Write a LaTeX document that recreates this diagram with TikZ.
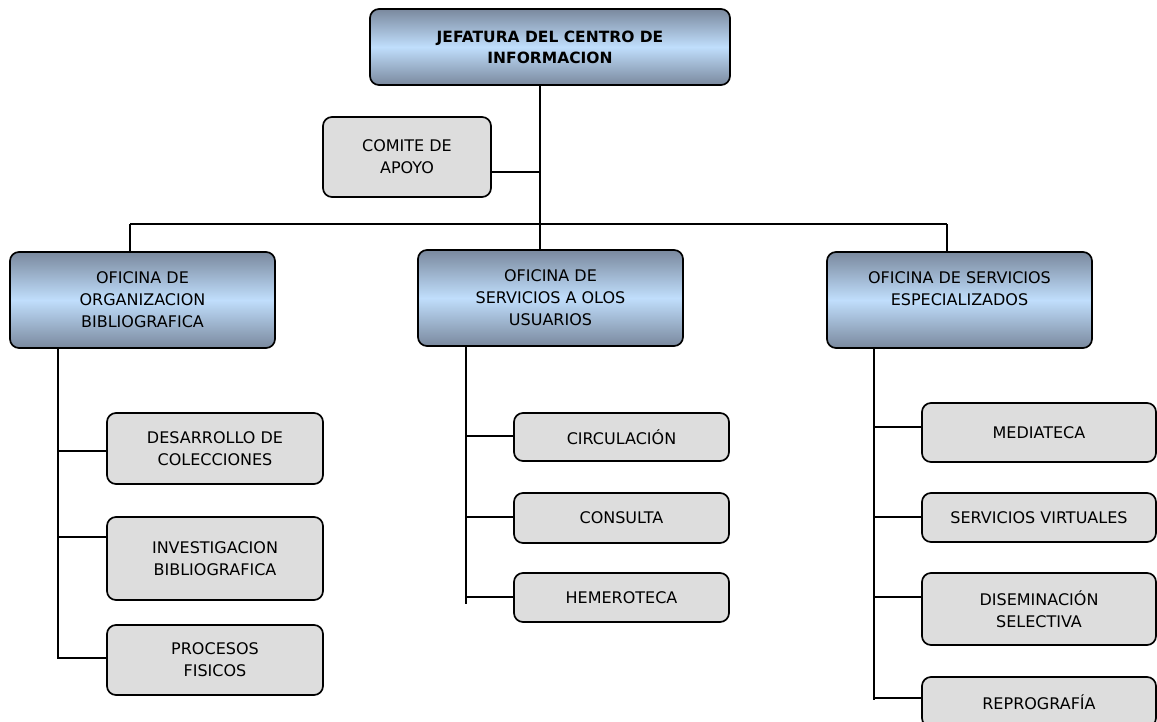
\documentclass[tikz,border=0pt]{standalone}
\usepackage{fontspec}
\setmainfont{DejaVu Sans}
\definecolor{gtop}{RGB}{122,137,158}
\definecolor{gmid}{RGB}{192,222,252}
\definecolor{gfill}{RGB}{221,221,221}
\tikzset{
  box/.style={draw=black, line width=1.7pt, rounded corners=9pt, align=center,
     inner sep=2pt, font=\fontsize{16}{22}\selectfont},
  bluebox/.style={box, top color=gtop, bottom color=gtop, middle color=gmid},
  greybox/.style={box, fill=gfill},
  link/.style={draw=black, line width=1.6pt}
}
\begin{document}
\begin{tikzpicture}[x=1pt,y=-1pt]
\clip (0,0) rectangle (1157,721);
\fill[white] (0,0) rectangle (1157,721);
% top
\node[bluebox, minimum width=360pt, minimum height=76pt, font=\fontsize{15.5}{21}\selectfont\bfseries] (jef) at (550,47) {JEFATURA DEL CENTRO DE\\INFORMACION};
\node[greybox, minimum width=168pt, minimum height=80pt] (com) at (407,157) {COMITE DE\\APOYO};
% offices
\node[bluebox, minimum width=265pt, minimum height=96pt] (ob) at (142.5,300) {OFICINA DE\\ORGANIZACION\\BIBLIOGRAFICA};
\node[bluebox, minimum width=265pt, minimum height=96pt] (ou) at (550.5,298) {OFICINA DE\\SERVICIOS A OLOS\\USUARIOS};
\node[bluebox, minimum width=265pt, minimum height=96pt] (oe) at (959.5,300) {OFICINA DE SERVICIOS\\ESPECIALIZADOS\\\mbox{}};
% left children
\node[greybox, minimum width=216pt, minimum height=71pt] (l1) at (215,448.5) {DESARROLLO DE\\COLECCIONES};
\node[greybox, minimum width=216pt, minimum height=83pt] (l2) at (215,558.5) {INVESTIGACION\\BIBLIOGRAFICA};
\node[greybox, minimum width=216pt, minimum height=70pt] (l3) at (215,660) {PROCESOS\\FISICOS};
% middle children
\node[greybox, minimum width=215pt, minimum height=48pt] (m1) at (621.5,437) {CIRCULACIÓN};
\node[greybox, minimum width=215pt, minimum height=50pt] (m2) at (621.5,518) {CONSULTA};
\node[greybox, minimum width=215pt, minimum height=49pt] (m3) at (621.5,597.5) {HEMEROTECA};
% right children
\node[greybox, minimum width=234pt, minimum height=59pt] (r1) at (1039,432.5) {MEDIATECA};
\node[greybox, minimum width=234pt, minimum height=49pt] (r2) at (1039,517.5) {SERVICIOS VIRTUALES};
\node[greybox, minimum width=234pt, minimum height=72pt] (r3) at (1039,609) {DISEMINACIÓN\\SELECTIVA};
\node[greybox, minimum width=234pt, minimum height=50pt] (r4) at (1039,702) {REPROGRAFÍA};
% coordinates
\coordinate (jtap) at (540,85);
\coordinate (busL) at (130,224);
\coordinate (busR) at (947,224);
\coordinate (spL) at (58,348);
\coordinate (spM) at (466,346);
\coordinate (spR) at (874,348);
\coordinate (spMend) at (466,604);
\coordinate (spRend) at (874,700);
% connectors
\draw[link] (jtap) -- (jtap |- ou.north);
\draw[link] (com.east |- 0,172) -- (540,172);
\draw[link] (busL) -- (busR);
\draw[link] (busL) -- (busL |- ob.north);
\draw[link] (busR) -- (busR |- oe.north);
% left spine
\draw[link] (spL) -- (spL |- 0,658) -- (l3.west |- 0,658);
\draw[link] (spL |- 0,451) -- (l1.west |- 0,451);
\draw[link] (spL |- 0,537) -- (l2.west |- 0,537);
% middle spine
\draw[link] (spM) -- (spMend);
\draw[link] (spM |- 0,436) -- (m1.west |- 0,436);
\draw[link] (spM |- 0,517) -- (m2.west |- 0,517);
\draw[link] (spM |- 0,597) -- (m3.west |- 0,597);
% right spine
\draw[link] (spR) -- (spRend);
\draw[link] (spR |- 0,427) -- (r1.west |- 0,427);
\draw[link] (spR |- 0,517) -- (r2.west |- 0,517);
\draw[link] (spR |- 0,597) -- (r3.west |- 0,597);
\draw[link] (spR |- 0,698) -- (r4.west |- 0,698);
\end{tikzpicture}
\end{document}
